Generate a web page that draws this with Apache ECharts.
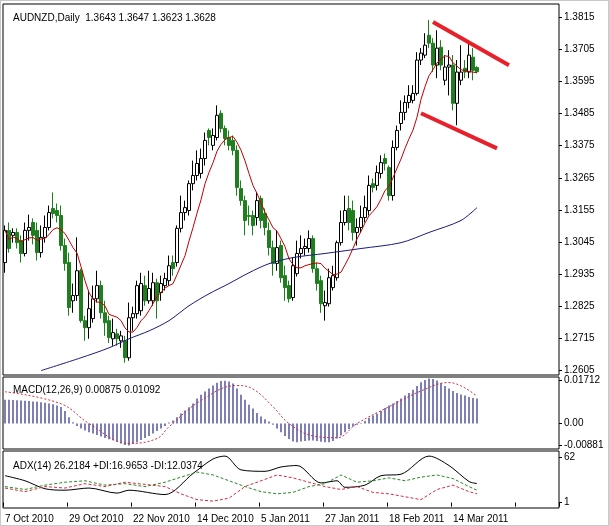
<!DOCTYPE html>
<html>
<head>
<meta charset="utf-8">
<title>AUDNZD Daily</title>
<script src="https://cdn.jsdelivr.net/npm/echarts@6/dist/echarts.min.js"></script>
<style>
  * { margin: 0; padding: 0; }
  body { background: #fff; }
  #chart { width: 607px; height: 524px; border: 1px solid #c8c8c8; }
</style>
</head>
<body>
<div id="chart"></div>
<script>
// candles: [open, close, low, high]
var ohlc = [
  [1.2975,1.3085,1.2940,1.3102],[1.3085,1.3023,1.3009,1.3112],[1.3068,1.3078,1.3043,1.3092],[1.3078,1.3043,1.3023,1.3092],
  [1.3050,1.3006,1.2975,1.3068],[1.3006,1.3085,1.2996,1.3112],[1.3085,1.3095,1.3050,1.3139],[1.3112,1.3068,1.3037,1.3126],
  [1.3085,1.3009,1.2982,1.3112],[1.3009,1.3061,1.2992,1.3102],[1.3061,1.3095,1.3043,1.3136],[1.3095,1.3146,1.3085,1.3170],
  [1.3160,1.3143,1.3126,1.3215],[1.3153,1.3136,1.3112,1.3177],[1.3136,1.3033,1.3016,1.3170],[1.3033,1.2972,1.2947,1.3057],
  [1.2975,1.2821,1.2793,1.3009],[1.2844,1.2862,1.2803,1.2903],[1.2862,1.2947,1.2844,1.3061],[1.2947,1.2776,1.2769,1.2954],
  [1.2776,1.2752,1.2707,1.2793],[1.2752,1.2817,1.2714,1.2879],[1.2783,1.2851,1.2769,1.2896],[1.2851,1.2896,1.2838,1.2947],
  [1.2896,1.2803,1.2783,1.2913],[1.2803,1.2769,1.2724,1.2844],[1.2776,1.2718,1.2700,1.2793],[1.2714,1.2735,1.2690,1.2783],
  [1.2731,1.2714,1.2690,1.2748],[1.2707,1.2724,1.2683,1.2741],[1.2707,1.2649,1.2632,1.2724],[1.2649,1.2786,1.2639,1.2838],
  [1.2786,1.2800,1.2741,1.2824],[1.2800,1.2896,1.2783,1.2913],[1.2810,1.2903,1.2793,1.2940],[1.2896,1.2844,1.2827,1.2930],
  [1.2844,1.2886,1.2834,1.2947],[1.2844,1.2906,1.2827,1.2940],[1.2906,1.2844,1.2783,1.2920],[1.2872,1.2903,1.2844,1.2930],
  [1.2896,1.2920,1.2879,1.2940],[1.2913,1.2964,1.2896,1.2999],[1.2975,1.2954,1.2930,1.2999],[1.2975,1.3092,1.2961,1.3102],
  [1.3092,1.3146,1.3078,1.3204],[1.3146,1.3163,1.3119,1.3187],[1.3153,1.3245,1.3136,1.3256],[1.3245,1.3273,1.3222,1.3324],
  [1.3273,1.3314,1.3256,1.3359],[1.3280,1.3331,1.3263,1.3365],[1.3331,1.3393,1.3307,1.3420],[1.3427,1.3403,1.3376,1.3434],
  [1.3376,1.3410,1.3359,1.3434],[1.3403,1.3479,1.3393,1.3513],[1.3486,1.3434,1.3420,1.3496],[1.3434,1.3400,1.3376,1.3444],
  [1.3403,1.3376,1.3359,1.3427],[1.3393,1.3359,1.3342,1.3410],[1.3359,1.3232,1.3204,1.3376],[1.3228,1.3187,1.3170,1.3256],
  [1.3187,1.3119,1.3068,1.3204],[1.3136,1.3133,1.3102,1.3170],[1.3136,1.3102,1.3068,1.3153],[1.3129,1.3187,1.3102,1.3215],
  [1.3194,1.3119,1.3092,1.3204],[1.3143,1.3095,1.3068,1.3160],[1.3085,1.3026,1.2999,1.3112],[1.3026,1.2972,1.2930,1.3050],
  [1.2972,1.3026,1.2947,1.3085],[1.3033,1.2923,1.2906,1.3050],[1.2930,1.2889,1.2844,1.2964],[1.2896,1.2851,1.2838,1.2913],
  [1.2855,1.2964,1.2844,1.2992],[1.2937,1.3006,1.2927,1.3050],[1.3006,1.3023,1.2989,1.3068],[1.3023,1.3030,1.2999,1.3057],
  [1.3023,1.3057,1.3009,1.3085],[1.3057,1.2954,1.2940,1.3068],[1.2954,1.2903,1.2879,1.2975],[1.2913,1.2834,1.2803,1.2930],
  [1.2827,1.2838,1.2776,1.2879],[1.2834,1.2923,1.2824,1.2954],[1.2889,1.2930,1.2879,1.2964],[1.2923,1.3043,1.2913,1.3050],
  [1.3043,1.3112,1.3033,1.3153],[1.3112,1.3153,1.3102,1.3204],[1.3160,1.3112,1.3085,1.3204],[1.3153,1.3078,1.3050,1.3187],
  [1.3078,1.3095,1.3033,1.3126],[1.3095,1.3129,1.3078,1.3170],[1.3129,1.3163,1.3112,1.3204],[1.3153,1.3239,1.3136,1.3273],
  [1.3245,1.3232,1.3215,1.3263],[1.3239,1.3283,1.3222,1.3307],[1.3280,1.3317,1.3263,1.3342],[1.3331,1.3314,1.3290,1.3348],
  [1.3300,1.3204,1.3187,1.3307],[1.3204,1.3369,1.3187,1.3393],[1.3369,1.3427,1.3359,1.3444],[1.3451,1.3489,1.3427,1.3530],
  [1.3489,1.3523,1.3462,1.3547],[1.3523,1.3547,1.3503,1.3582],[1.3530,1.3554,1.3520,1.3582],[1.3554,1.3668,1.3547,1.3695],
  [1.3668,1.3692,1.3651,1.3709],[1.3685,1.3719,1.3675,1.3760],[1.3753,1.3726,1.3709,1.3805],[1.3726,1.3651,1.3627,1.3743],
  [1.3651,1.3709,1.3606,1.3770],[1.3712,1.3651,1.3633,1.3736],[1.3599,1.3644,1.3582,1.3685],[1.3644,1.3651,1.3547,1.3702],
  [1.3651,1.3520,1.3496,1.3685],[1.3520,1.3627,1.3445,1.3668],[1.3599,1.3627,1.3582,1.3719],[1.3640,1.3627,1.3606,1.3668],
  [1.3627,1.3685,1.3606,1.3736],[1.3678,1.3633,1.3599,1.3709],[1.3643,1.3628,1.3623,1.3647]
];
var lastPrice = 1.3628;
var priceTicks = [1.3815, 1.3705, 1.3595, 1.3485, 1.3375, 1.3265, 1.3155, 1.3045, 1.2935, 1.2825, 1.2715, 1.2605];
// long moving average, [barIndex, value]
var maLong = [[9,1.2605],[19,1.2649],[26,1.2683],[31,1.2714],[36,1.2741],[41,1.2776],[46,1.2827],[51,1.2868],
  [56,1.2903],[61,1.2940],[66,1.2971],[72,1.2992],[80,1.3006],[89,1.3023],[99,1.3043],[106,1.3078],[114,1.3119],[118,1.3163]];
var macdHist = [0.0095,0.0095,0.0094,0.0093,0.0092,0.0091,0.0090,0.0088,0.0087,0.0085,0.0083,0.0080,0.0077,0.0072,0.0066,0.0050,
  0.0025,0.0005,-0.0010,-0.0020,-0.0028,-0.0035,-0.0040,-0.0046,-0.0052,-0.0058,-0.0063,-0.0067,-0.0073,-0.0080,-0.0086,-0.0088,
  -0.0082,-0.0075,-0.0066,-0.0058,-0.0050,-0.0040,-0.0030,-0.0020,-0.0010,0.0004,0.0012,0.0025,0.0040,0.0052,0.0065,0.0080,
  0.0100,0.0115,0.0128,0.0140,0.0152,0.0163,0.0170,0.0171,0.0168,0.0160,0.0140,0.0115,0.0095,0.0075,0.0060,0.0042,
  0.0028,0.0017,0.0008,-0.0005,-0.0020,-0.0035,-0.0050,-0.0062,-0.0072,-0.0075,-0.0072,-0.0070,-0.0068,-0.0068,-0.0070,-0.0073,
  -0.0075,-0.0075,-0.0070,-0.0060,-0.0048,-0.0035,-0.0022,-0.0012,-0.0005,0.0002,0.0010,0.0022,0.0032,0.0040,0.0050,0.0062,
  0.0072,0.0080,0.0090,0.0100,0.0112,0.0122,0.0135,0.0150,0.0165,0.0174,0.0180,0.0178,0.0172,0.0162,0.0150,0.0140,
  0.0130,0.0122,0.0116,0.0112,0.0106,0.0102,0.0100];
var macdSignal = [[0,0.0127],[14,0.0079],[21,0.0000],[31,-0.0080],[38,-0.0060],[41,-0.0013],[49,0.0092],[58,0.0152],
  [62,0.0138],[67,0.0067],[71,0.0000],[77,-0.0050],[83,-0.0057],[88,0.0000],[96,0.0067],[104,0.0130],[111,0.0164],[118,0.0109]];
var macdTicks = [0.01712, 0, -0.00881];
var adxLine = [[0,37],[5,30],[10,19],[15,17],[21,20],[28,13],[31,17],[40,11],[47,40],[52,60],[55,64],[59,45],[65,43],
  [69,49],[73,51],[79,27],[83,30],[85,21],[90,24],[94,37],[99,39],[106,64],[111,51],[116,29],[118,26.2]];
var plusDI = [[0,22],[5,18],[10,24],[15,28],[20,30],[25,24],[30,26],[35,22],[40,28],[44,35],[48,42],[52,38],[56,30],
  [60,22],[64,15],[68,12],[72,14],[76,22],[80,26],[84,38],[88,28],[92,30],[96,34],[100,30],[104,35],[108,38],[112,33],[116,22],[118,17]];
var minusDI = [[0,20],[5,15],[10,22],[15,20],[20,26],[25,22],[30,28],[35,25],[40,22],[44,12],[48,4],[52,2],[56,6],
  [60,22],[64,30],[68,38],[72,34],[76,28],[80,22],[84,18],[88,22],[92,14],[96,12],[100,8],[104,4],[108,18],[112,24],[116,15],[118,12]];
var adxTicks = [62, 1];
// hand-drawn channel lines: [barIndex, price]
var upperLine = [[107,1.3798],[126,1.3650]];
var lowerLine = [[104,1.3486],[123,1.3366]];

var slots = 139;
var months = ['Jan','Feb','Mar','Apr','May','Jun','Jul','Aug','Sep','Oct','Nov','Dec'];
var dates = [];
var d = new Date(2010, 9, 7);
while (dates.length < slots) {
    if (d.getDay() != 0 && d.getDay() != 6) dates.push(d.getDate() + ' ' + months[d.getMonth()] + ' ' + d.getFullYear());
    d.setDate(d.getDate() + 1);
}

// short moving average of closes (red)
var maShort = [];
for (var i = 0; i < ohlc.length; i++) {
    var s = 0, n = 0;
    for (var j = Math.max(0, i - 7); j <= i; j++) { s += ohlc[j][1]; n++; }
    maShort.push(+(s / n).toFixed(5));
}

var font = 'Tahoma, "Liberation Sans", sans-serif';
var green = '#1f7f1f';

function xAx(idx, showLabel) {
    return {
        type: 'category', gridIndex: idx, data: dates, boundaryGap: true,
        axisLine: { show: false },
        axisTick: { show: showLabel, interval: function (i) { return i % 16 == 0; }, length: 4, lineStyle: { color: '#000' } },
        axisLabel: {
            show: showLabel, interval: function (i) { return i % 16 == 0 && i < 119; },
            color: '#000', fontSize: 10, fontFamily: font, align: 'left', margin: 6
        },
        splitLine: { show: false }
    };
}
function yAx(idx, min, max, ticks, fmt) {
    return {
        type: 'value', gridIndex: idx, position: 'right', min: min, max: max, scale: true,
        axisLine: { show: false }, splitLine: { show: false },
        axisTick: { show: true, customValues: ticks, length: 3, inside: false, lineStyle: { color: '#000' } },
        axisLabel: { customValues: ticks, color: '#000', fontSize: 10, fontFamily: font, margin: 5, formatter: fmt }
    };
}

var chart = echarts.init(document.getElementById('chart'));
var option = {
    animation: false,
    backgroundColor: '#fff',
    title: [
        { text: 'AUDNZD,Daily  1.3643 1.3647 1.3623 1.3628', left: 7, top: 7, textStyle: { fontSize: 10, fontWeight: 'normal', color: '#000', fontFamily: font } },
        { text: 'MACD(12,26,9) 0.00875 0.01092', left: 7, top: 379, textStyle: { fontSize: 10, fontWeight: 'normal', color: '#000', fontFamily: font } },
        { text: 'ADX(14) 26.2184 +DI:16.9653 -DI:12.0374', left: 7, top: 455, textStyle: { fontSize: 10, fontWeight: 'normal', color: '#000', fontFamily: font } }
    ],
    grid: [
        { left: 2, width: 556, top: 3, height: 371, show: true, borderColor: '#000', borderWidth: 1, backgroundColor: '#fff' },
        { left: 2, width: 556, top: 376, height: 72, show: true, borderColor: '#000', borderWidth: 1 },
        { left: 2, width: 556, top: 450, height: 57, show: true, borderColor: '#000', borderWidth: 1 }
    ],
    xAxis: [xAx(0, false), xAx(1, false), xAx(2, true)],
    yAxis: [
        yAx(0, 1.2590, 1.3860, priceTicks, function (v) { return v.toFixed(4); }),
        yAx(1, -0.0102, 0.0186, macdTicks, function (v) { return v == 0 ? '0.00' : v.toFixed(5); }),
        yAx(2, -7.5, 71, adxTicks, function (v) { return v.toFixed(0); })
    ],
    series: [
        {
            type: 'candlestick', xAxisIndex: 0, yAxisIndex: 0, barWidth: 3,
            data: ohlc.map(function (r) { return [r[0], r[1], r[2], r[3]]; }),
            itemStyle: { color: '#fff', color0: green, borderColor: '#000', borderColor0: green, borderWidth: 1 },
            markLine: {
                silent: true, symbol: 'none',
                data: [
                    [{ coord: upperLine[0] }, { coord: upperLine[1] }],
                    [{ coord: lowerLine[0] }, { coord: lowerLine[1] }]
                ],
                lineStyle: { color: '#e8202a', width: 4, type: 'solid' },
                label: { show: false }
            }
        },
        {
            type: 'line', xAxisIndex: 0, yAxisIndex: 0, data: [], symbol: 'none',
            markLine: {
                silent: true, symbol: 'none', lineStyle: { opacity: 0 },
                data: [{ yAxis: lastPrice }],
                label: { position: 'end', formatter: lastPrice.toFixed(4), backgroundColor: '#000', color: '#fff', fontSize: 10, fontFamily: font, padding: [2, 3], distance: 3 }
            }
        },
        { type: 'line', xAxisIndex: 0, yAxisIndex: 0, data: maShort, symbol: 'none', lineStyle: { color: '#c00000', width: 1 }, z: 5 },
        { type: 'line', xAxisIndex: 0, yAxisIndex: 0, data: maLong, symbol: 'none', smooth: 0.3, lineStyle: { color: '#1a1a80', width: 1 }, z: 5 },
        { type: 'bar', xAxisIndex: 1, yAxisIndex: 1, data: macdHist, barWidth: 1, itemStyle: { color: '#000070' } },
        { type: 'line', xAxisIndex: 1, yAxisIndex: 1, data: macdSignal, symbol: 'none', smooth: 0.4, connectNulls: true, lineStyle: { color: '#d03040', width: 1, type: [2, 2] } },
        { type: 'line', xAxisIndex: 2, yAxisIndex: 2, data: adxLine, symbol: 'none', smooth: 0.3, lineStyle: { color: '#000', width: 1 } },
        { type: 'line', xAxisIndex: 2, yAxisIndex: 2, data: plusDI, symbol: 'none', lineStyle: { color: '#2a8a2a', width: 1, type: [3, 2] } },
        { type: 'line', xAxisIndex: 2, yAxisIndex: 2, data: minusDI, symbol: 'none', lineStyle: { color: '#d03040', width: 1, type: [3, 2] } }
    ]
};
chart.setOption(option);
</script>
</body>
</html>
